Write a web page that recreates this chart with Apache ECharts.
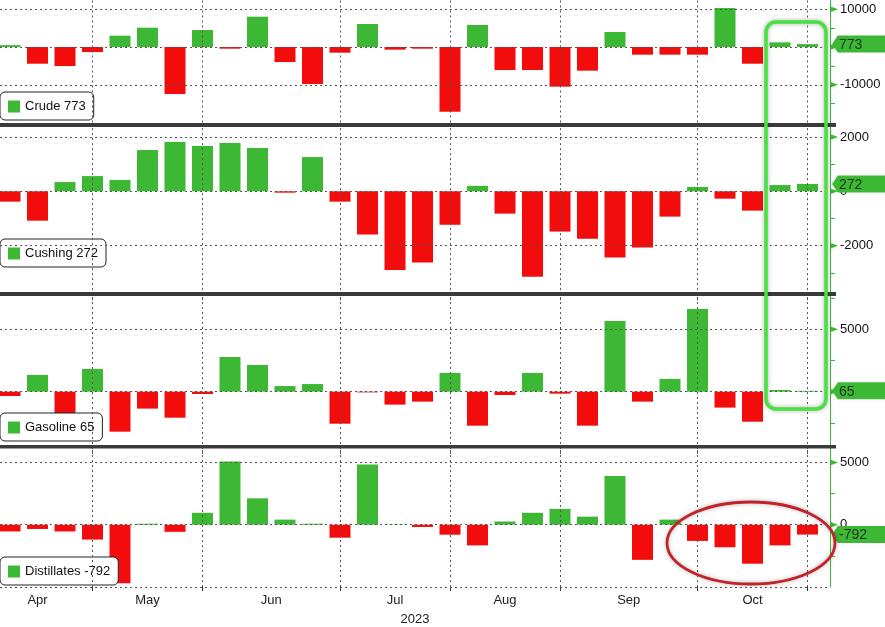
<!DOCTYPE html>
<html><head><meta charset="utf-8">
<script src="https://cdn.jsdelivr.net/npm/echarts@6/dist/echarts.min.js"></script>
<style>html,body{margin:0;padding:0;background:#fff}#c{width:885px;height:627px}</style>
</head><body><div id="c"></div>
<script>
// Weekly inventory changes (thousand barrels), week dates
const weeks = ['2023-04-14','2023-04-21','2023-04-28','2023-05-05','2023-05-12','2023-05-19','2023-05-26',
  '2023-06-02','2023-06-09','2023-06-16','2023-06-23','2023-06-30','2023-07-07','2023-07-14','2023-07-21',
  '2023-07-28','2023-08-04','2023-08-11','2023-08-18','2023-08-25','2023-09-01','2023-09-08','2023-09-15',
  '2023-09-22','2023-09-29','2023-10-06','2023-10-13','2023-10-20','2023-10-27','2023-11-03'];
const crude = [500,-4420,-5040,-1330,3000,5120,-12460,4500,-440,8040,-3980,-9810,-1500,6100,-700,-440,
  -17140,5830,-6100,-6100,-10510,-6270,3980,-2030,-2030,-2030,10340,-4420,1240,773];
const cushing = [-380,-1080,340,560,420,1520,1810,1670,1780,1590,-50,1260,-380,-1590,-2890,-2620,
  -1230,200,-820,-3140,-1480,-1740,-2430,-2070,-930,160,-270,-710,230,272];
const gasoline = [-350,1340,-1800,1820,-3210,-1360,-2090,-190,2780,2140,450,610,-2570,-60,-1040,-800,
  1500,-2730,-270,1500,-160,-2730,5670,-800,1020,6630,-1280,-2410,130,65];
const distillates = [-540,-340,-540,-1190,-4700,80,-570,960,5080,2120,410,80,-1040,4840,30,-180,
  -800,-1660,260,960,1270,650,3910,-2820,410,-1300,-1810,-3130,-1660,-792];
const monthStartIdx = [3,7,12,16,20,25,29];
const monthLabels = ['Apr','May','Jun','Jul','Aug','Sep','Oct'];
const monthLabelPos = [1,5,9.5,14,18,22.5,27];
const yearLabel = '2023';

const GREEN = '#3cb834', RED = '#f20c0c';
const X_MIN = -0.3636, X_MAX = 29.818;

const panels = [
  {name:'Crude', data:crude, top:0, height:122.5, min:-20000, max:12457, step:5000, major:10000, lines:[10000,0,-10000], legendTop:92},
  {name:'Cushing', data:cushing, top:127, height:173.1, min:-4000, max:2365, step:1000, major:2000, lines:[2000,0,-2000], legendTop:239},
  {name:'Gasoline', data:gasoline, top:295, height:159, min:-5000, max:7750, step:2500, major:5000, lines:[5000,0], legendTop:413},
  {name:'Distillates', data:distillates, top:450, height:141.6, min:-5000, max:6000, step:2500, major:5000, lines:[5000,0,-5000], legendTop:557}
];

const grid=[], xAxis=[], yAxis=[], series=[], legend=[];
panels.forEach((p,k)=>{
  grid.push({left:0, right:55, top:p.top, height:p.height});
  const last = k===3;
  xAxis.push({
    type:'value', gridIndex:k, min:X_MIN, max:X_MAX, show:last,
    splitLine:{show:false}, axisLine:{show:false, onZero:false},
    axisTick:{show:last, customValues:monthStartIdx, length:4, lineStyle:{color:'#333'}},
    axisLabel:{show:last, customValues:monthLabelPos, margin:7, color:'#222', fontSize:13,
      formatter:(v)=>{const i=monthLabelPos.indexOf(v); return i>=0?monthLabels[i]:'';}},
    name:last?yearLabel:'', nameLocation:'middle', nameGap:26,
    nameTextStyle:{color:'#222', fontSize:13}
  });
  yAxis.push({
    type:'value', gridIndex:k, position:'right', min:p.min, max:p.max, interval:p.step,
    axisLine:{show:true, onZero:false, lineStyle:{color:GREEN, width:1}},
    axisTick:{show:true, length:5, lineStyle:{color:GREEN}},
    splitLine:{show:false},
    axisLabel:{margin:10, color:'#111', fontSize:13, showMaxLabel:false, showMinLabel:false,
      formatter:(v)=> (v % p.major === 0) ? String(v) : ''}
  });
  const lastVal = p.data[p.data.length-1];
  const arrowMarks = p.lines.filter(v=>v>p.min && v<p.max).map(v=>({
    coord:[X_MAX, v], symbol:'path://M0,0L8,3L0,6Z', symbolSize:[8,6], symbolOffset:[4,0],
    itemStyle:{color:GREEN}, label:{show:false}
  }));
  series.push({
    type:'bar', name:p.name, xAxisIndex:k, yAxisIndex:k, barWidth:21,
    itemStyle:{color:GREEN},
    data:p.data.map((v,i)=>({value:[i,v], itemStyle:{color: v<0?RED:GREEN}})),
    markLine:{silent:true, symbol:['none','none'], label:{show:false}, animation:false,
      lineStyle:{type:[2,3], color:'#555', width:1},
      emphasis:{disabled:true},
      data:[...monthStartIdx.map(x=>({xAxis:x})), ...p.lines.map(y=>({yAxis:y}))]},
    markPoint:{silent:true, animation:false, data:[...arrowMarks, {
      coord:[X_MAX, lastVal], symbol:'path://M0,8L6,0L60,0L60,16L6,16Z', symbolSize:[58,17],
      symbolOffset:[31,0], symbolKeepAspect:false, itemStyle:{color:GREEN},
      label:{show:true, formatter:String(lastVal), position:'inside', align:'left', offset:[-22,1],
        color:'#1d331d', fontSize:14}
    }]}
  });
  legend.push({
    data:[p.name], left:0, top:p.legendTop, icon:'rect', itemWidth:12, itemHeight:12, itemGap:4,
    padding:[8,8,7,8], backgroundColor:'#fff', borderColor:'#222', borderWidth:1, borderRadius:5,
    selectedMode:false, textStyle:{color:'#111', fontSize:13},
    formatter:(n)=> n + ' ' + lastVal
  });
});

const chart = echarts.init(document.getElementById('c'), null, {renderer:'canvas'});
chart.setOption({
  animation:false,
  backgroundColor:'#fff',
  textStyle:{fontFamily:'"Liberation Sans", Arial, sans-serif'},
  grid, xAxis, yAxis, series, legend,
  graphic:[
    {type:'rect', z:100, shape:{x:0,y:123,width:836,height:4}, style:{fill:'#3a3a3a'}},
    {type:'rect', z:100, shape:{x:0,y:292,width:836,height:4}, style:{fill:'#3a3a3a'}},
    {type:'rect', z:100, shape:{x:0,y:445,width:836,height:3.5}, style:{fill:'#3a3a3a'}},
    {type:'rect', z:110, shape:{x:766,y:22,width:60,height:387,r:10},
      style:{fill:'none', stroke:'#47e23f', lineWidth:3.5, shadowBlur:4, shadowColor:'rgba(0,0,0,0.35)'}},
    {type:'ellipse', z:110, shape:{cx:751,cy:543,rx:84,ry:41},
      style:{fill:'none', stroke:'#c4222b', lineWidth:2.8, shadowBlur:4, shadowColor:'rgba(0,0,0,0.3)'}}
  ]
});
</script></body></html>
